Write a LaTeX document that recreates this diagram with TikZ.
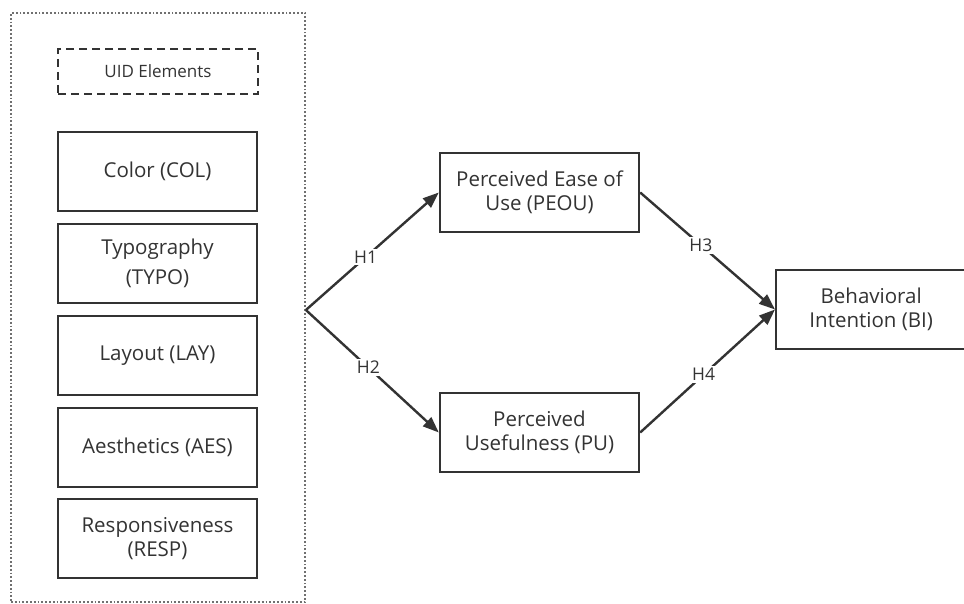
\documentclass[tikz,border=0pt]{standalone}
\usepackage{fontspec}
\setmainfont{Open Sans}
\usetikzlibrary{arrows.meta}
\definecolor{ln}{HTML}{333333}
\definecolor{tx}{HTML}{333333}
\tikzset{
  box/.style={draw=ln, line width=2.4pt, minimum width=199pt, minimum height=79pt, align=center, text=tx, font=\fontsize{20.5}{23.5}\selectfont, inner sep=2pt},
  hyp/.style={draw=ln, line width=2.4pt, -{Triangle[length=16pt,width=12pt]}},
  hlab/.style={fill=white, text=tx, font=\fontsize{17.5}{20}\selectfont, inner sep=2pt}
}
\begin{document}
\begin{tikzpicture}[x=1pt,y=-1pt]
\useasboundingbox (0,0) rectangle (964,604);
\fill[white] (0,0) rectangle (964,604);
\node[draw=ln!70, line width=1.8pt, dotted, minimum width=294pt, minimum height=589pt, inner sep=0pt] (frame) at (158,307.5) {};
\node[draw=ln, line width=2.2pt, dash pattern=on 8pt off 5pt, minimum width=200pt, minimum height=45pt, text=tx, font=\fontsize{17}{20}\selectfont] (uid) at (158,71.5) {UID Elements};
\node[box] (col) at (157.5,171.5) {Color (COL)};
\node[box] (typo) at (157.5,263.5) {Typography\\[6pt](TYPO)};
\node[box] (lay) at (157.5,355.5) {Layout (LAY)};
\node[box] (aes) at (157.5,447.5) {Aesthetics (AES)};
\node[box] (resp) at (157.5,538.5) {Responsiveness\\(RESP)};
\node[box] (peou) at (539.5,192.5) {Perceived Ease of\\Use (PEOU)};
\node[box] (pu) at (539.5,432.5) {Perceived\\Usefulness (PU)};
\node[box, minimum width=190pt, anchor=west] (bi) at (775,309.5) {Behavioral\\Intention (BI)};
\coordinate (src) at (frame.east |- 0,310);
\draw[hyp] (src) -- node[hlab, pos=0.45] (h1) {H1} (peou.west);
\draw[hyp] (src) -- node[hlab, pos=0.47] (h2) {H2} (pu.west);
\draw[hyp] (peou.east) -- node[hlab, pos=0.45] (h3) {H3} (bi.west);
\draw[hyp] (pu.east) -- node[hlab, pos=0.47] (h4) {H4} (bi.west);
\end{tikzpicture}
\end{document}
